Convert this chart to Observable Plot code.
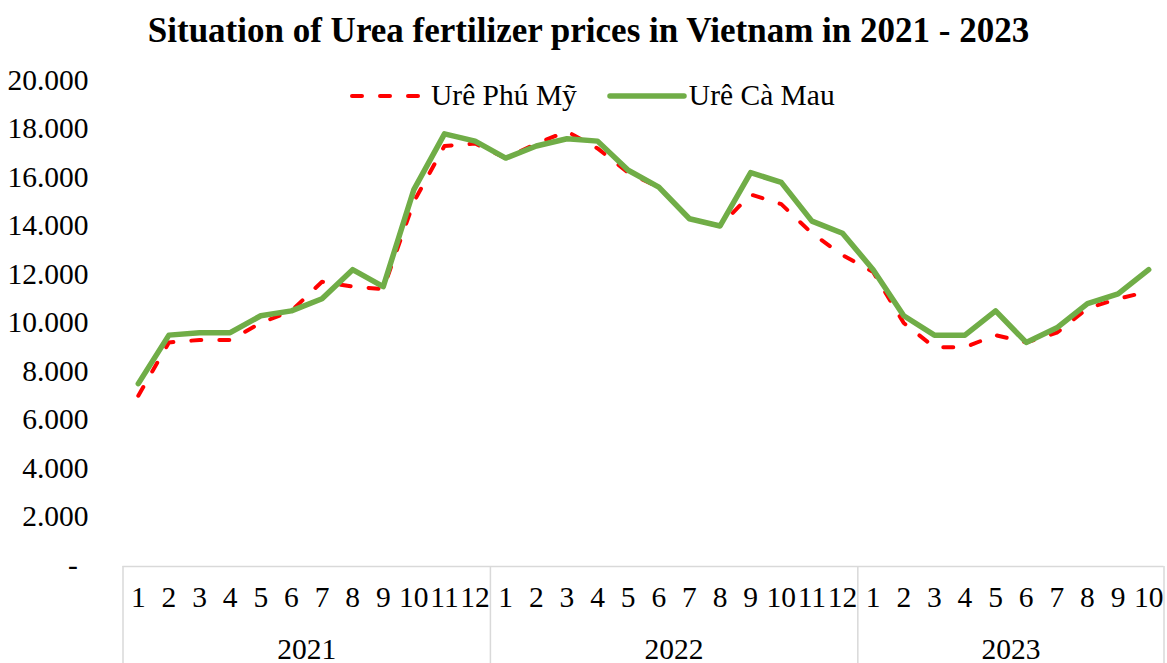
<!DOCTYPE html>
<html>
<head>
<meta charset="utf-8">
<script src="https://cdn.jsdelivr.net/npm/d3@7"></script>
<script src="https://cdn.jsdelivr.net/npm/@observablehq/plot@0.6"></script>
<style>
  html, body { margin: 0; padding: 0; background: #fff; }
  body { width: 1167px; height: 663px; overflow: hidden; position: relative; font-family: "Liberation Serif", "Times New Roman", serif; }
  #title { height: 62px; line-height: 62px; text-align: center; font-weight: bold; font-size: 35px; color: #000; padding-left: 10px; }
  #legend { position: absolute; top: 79px; left: 349px; display: flex; align-items: center; font-size: 29.5px; color: #000; white-space: nowrap; }
  #legend .item { display: flex; align-items: center; }
  #legend svg { display: block; }
</style>
</head>
<body>
<div id="title">Situation of Urea fertilizer prices in Vietnam in 2021 - 2023</div>
<div id="chart"></div>
<div id="legend"></div>
<script>
// ---- data ----
const years = ["2021", "2022", "2023"];
const monthsPerYear = [12, 12, 10];
const seriesNames = ["Urê Phú Mỹ", "Urê Cà Mau"];
const phuMy = [7000, 9200, 9300, 9300, 10000, 10500, 11700, 11500, 11400, 15000, 17300, 17400,
               16800, 17400, 17900, 17200, 16200, 15600, 14300, 14000, 15300, 14900, 13700, 12800,
               12100, 10000, 9000, 9000, 9500, 9200, 9600, 10600, 11000, 11300];
const caMau = [7500, 9500, 9600, 9600, 10300, 10500, 11000, 12200, 11500, 15500, 17800, 17500,
               16800, 17300, 17600, 17500, 16300, 15600, 14300, 14000, 16200, 15800, 14200, 13700,
               12200, 10300, 9500, 9500, 10500, 9200, 9800, 10800, 11200, 12200];
const yTicks = [0, 2000, 4000, 6000, 8000, 10000, 12000, 14000, 16000, 18000, 20000];

// ---- build table ----
const rows = [];
const yearGroups = [];
years.forEach((yr, k) => {
  const start = rows.length;
  for (let m = 1; m <= monthsPerYear[k]; m++) {
    const i = rows.length;
    rows.push({i, year: yr, month: String(m), phuMy: phuMy[i], caMau: caMau[i]});
  }
  yearGroups.push({year: yr, center: (start + rows.length - 1) / 2, left: start - 0.5, right: rows.length - 0.5});
});
const boundaries = [yearGroups[0].left, ...yearGroups.map(g => g.right)];

const red = "#ff0000", green = "#70ad47", grid = "#d9d9d9";
const width = 1167, height = 601;
const marginTop = 18, marginBottom = 98, marginLeft = 122.5, marginRight = 3.5;
const frameH = height - marginTop - marginBottom;
const fmt = d => d3.format(",")(d).replace(/,/g, ".");
const font = "'Liberation Serif', 'Times New Roman', serif";
const fs = 29.5;

const chart = Plot.plot({
  width, height, marginTop, marginBottom, marginLeft, marginRight,
  style: {fontFamily: font, fontSize: fs + "px", color: "#000", background: "#fff", overflow: "visible"},
  x: {type: "linear", domain: [boundaries[0], boundaries[boundaries.length - 1]], axis: null},
  y: {domain: [0, 20000], axis: null},
  marks: [
    Plot.axisY(yTicks.filter(d => d > 0), {tickSize: 0, tickPadding: 34.5, tickFormat: fmt, fontSize: fs, fill: "#000"}),
    Plot.text([0], {y: d => d, frameAnchor: "left", text: () => "-", dx: -55, fontSize: fs, fill: "#000"}),
    Plot.ruleY([0], {x1: boundaries[0], x2: boundaries[boundaries.length - 1], stroke: grid, strokeWidth: 1.5, dy: 1}),
    Plot.ruleX(boundaries, {x: d => d, stroke: grid, strokeWidth: 1.5, insetTop: frameH + 1, insetBottom: -marginBottom}),
    Plot.text(rows, {x: "i", text: "month", frameAnchor: "bottom", dy: 41, fontSize: fs, fill: "#000"}),
    Plot.text(yearGroups, {x: "center", text: "year", frameAnchor: "bottom", dy: 93, fontSize: fs, fill: "#000"}),
    Plot.line(rows, {x: "i", y: "phuMy", stroke: red, strokeWidth: 4, strokeDasharray: "10,18", strokeLinecap: "round", strokeLinejoin: "round"}),
    Plot.line(rows, {x: "i", y: "caMau", stroke: green, strokeWidth: 5.5, strokeLinecap: "round", strokeLinejoin: "round"})
  ]
});
document.getElementById("chart").appendChild(chart);

// ---- legend ----
const legend = document.getElementById("legend");
const styles = [
  {stroke: red, width: 4, dash: "10,18"},
  {stroke: green, width: 5.5, dash: null}
];
seriesNames.forEach((name, k) => {
  const item = document.createElement("div");
  item.className = "item";
  item.style.marginRight = k === 0 ? "30px" : "0";
  const s = styles[k];
  item.innerHTML = `<svg width="80" height="20"><line x1="3" y1="10" x2="77" y2="10" stroke="${s.stroke}" stroke-width="${s.width}" stroke-linecap="round" ${s.dash ? `stroke-dasharray="${s.dash}"` : ""}/></svg><span style="margin-left:2px">${name}</span>`;
  legend.appendChild(item);
});
</script>
</body>
</html>
